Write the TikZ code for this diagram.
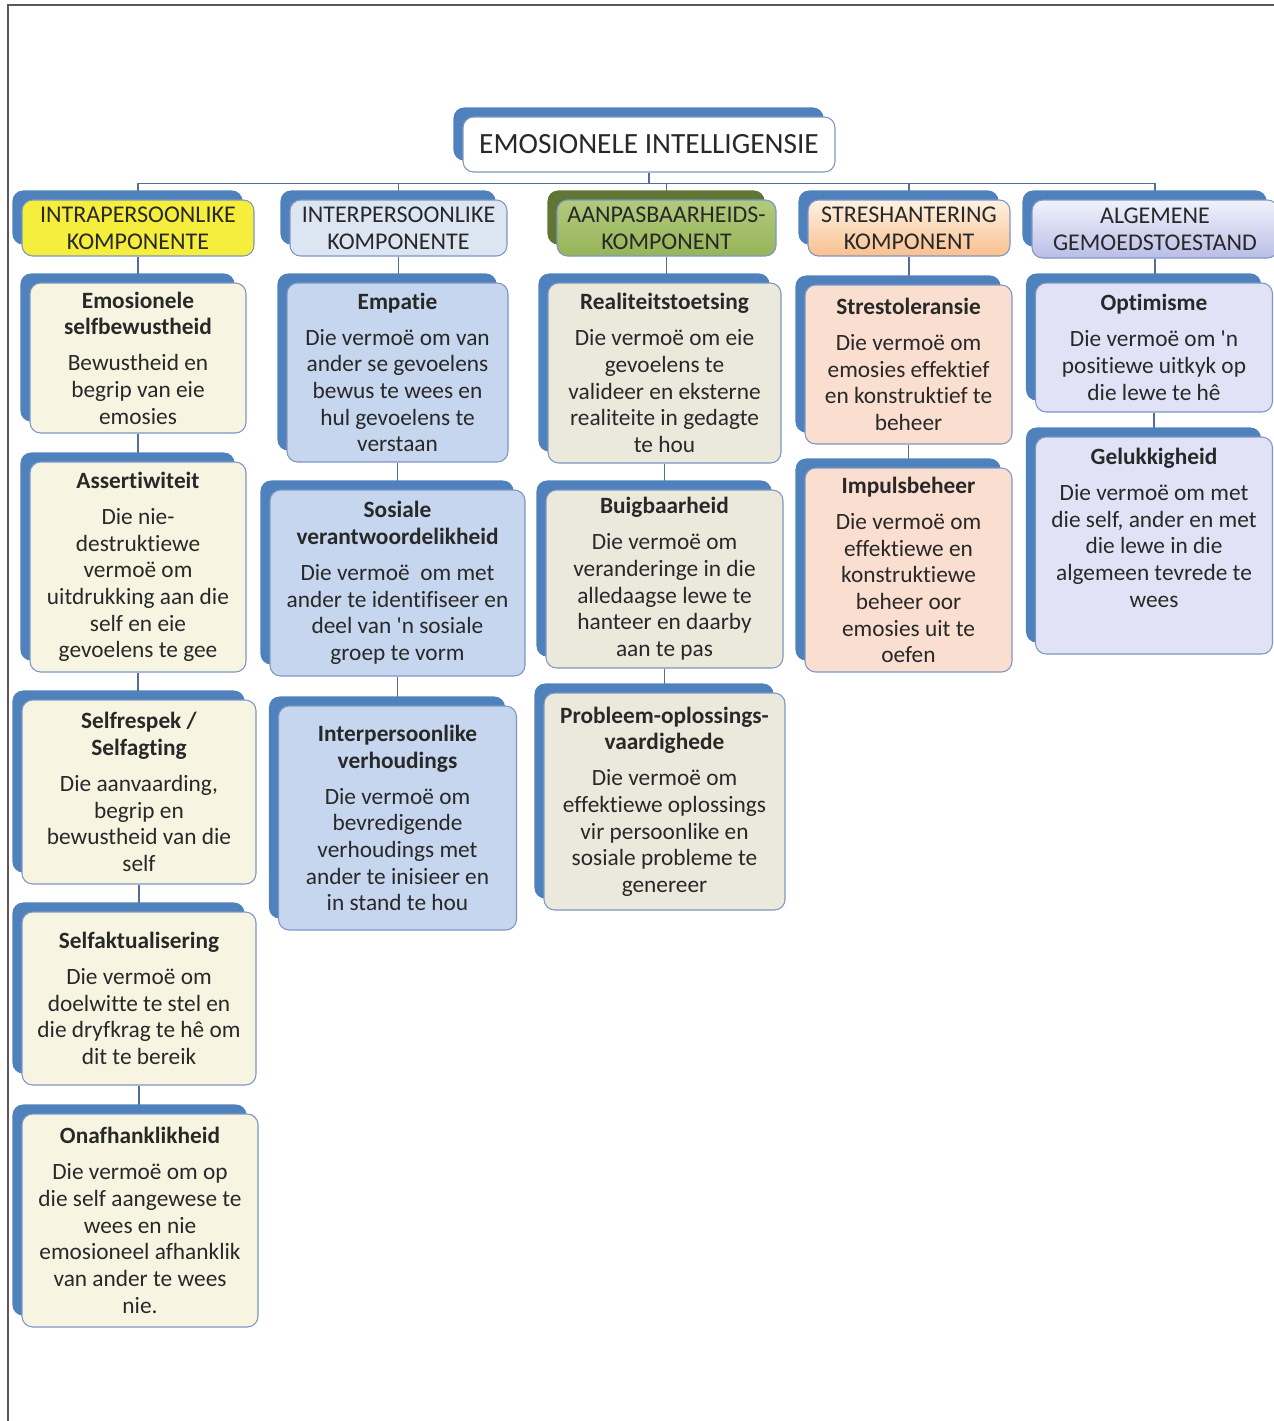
\documentclass[tikz,border=0pt]{standalone}
\usepackage{fontspec}
\setmainfont{Carlito}[Ligatures={NoCommon}]
\usetikzlibrary{backgrounds,calc}
\pgfdeclarelayer{connlayer}
\pgfsetlayers{connlayer,background,main}
\definecolor{backblue}{RGB}{79,129,189}
\definecolor{backgreen}{RGB}{95,118,52}
\definecolor{boxline}{RGB}{125,150,195}
\definecolor{conncol}{RGB}{85,110,150}
\definecolor{txt}{RGB}{40,40,40}
\definecolor{cream}{RGB}{247,245,226}
\definecolor{pblue}{RGB}{198,214,238}
\definecolor{beige}{RGB}{235,233,220}
\definecolor{peach}{RGB}{250,222,207}
\definecolor{lav}{RGB}{226,226,246}
\definecolor{hyellow}{RGB}{245,238,60}
\definecolor{hblue}{RGB}{220,230,243}
\definecolor{hgreenT}{RGB}{178,202,125}
\definecolor{hgreenB}{RGB}{150,180,88}
\definecolor{horangeT}{RGB}{253,242,228}
\definecolor{horangeB}{RGB}{250,192,143}
\definecolor{hlavT}{RGB}{242,242,252}
\definecolor{hlavB}{RGB}{185,190,230}
\definecolor{framecol}{RGB}{95,85,95}
\newcommand{\apos}{\textquotesingle}
\begin{document}
\begin{tikzpicture}[x=0.75pt,y=-0.75pt,
  box/.style={draw=boxline, line width=0.8pt, rounded corners=8pt, align=center,
    text=txt, font=\fontsize{17.5}{20}\selectfont, inner sep=1pt},
  hdr/.style={box, font=\fontsize{18}{20.3}\selectfont},
  wh/.style 2 args={minimum width=#1*0.75pt, minimum height=#2*0.75pt},
  conn/.style={draw=conncol, line width=1.1pt},
  backshape/.style={fill=backblue, rounded corners=8pt},
  framestyle/.style={draw=framecol, line width=1.5pt}]
\useasboundingbox (0,0) rectangle (1274,1421);
\draw[framestyle] (1274,5) -- (8,5) -- (8,1421);

% top
\node[box, fill=white, wh={372}{55}, font=\fontsize{22}{26}\selectfont] (top) at (649,144.5) {EMOSIONELE INTELLIGENSIE};

% headers
\node[hdr, fill=hyellow, wh={232}{56}] (h1) at (138,228) {INTRAPERSOONLIKE\\KOMPONENTE};
\node[hdr, fill=hblue, wh={217}{56}] (h2) at (398.5,228) {INTERPERSOONLIKE\\KOMPONENTE};
\node[hdr, top color=hgreenT, bottom color=hgreenB, wh={219}{56}] (h3) at (666.5,228) {AANPASBAARHEIDS-\\KOMPONENT};
\node[hdr, top color=horangeT, bottom color=horangeB, wh={202}{56}] (h4) at (909,228) {STRESHANTERING\\KOMPONENT};
\node[hdr, top color=hlavT, bottom color=hlavB, wh={246}{58}] (h5) at (1155,229) {ALGEMENE\\GEMOEDSTOESTAND};

% column 1
\node[box, fill=cream, wh={216}{150}] (a1) at (138,358) {\textbf{Emosionele}\\\textbf{selfbewustheid}\\[7pt]Bewustheid en\\begrip van eie\\emosies};
\node[box, fill=cream, wh={216}{210}] (a2) at (138,567) {\textbf{Assertiwiteit}\\[7pt]Die nie-\\destruktiewe\\vermoë om\\uitdrukking aan die\\self en eie\\gevoelens te gee};
\node[box, fill=cream, wh={234}{184}] (a3) at (139,792) {\textbf{Selfrespek /}\\\textbf{Selfagting}\\[7pt]Die aanvaarding,\\begrip en\\bewustheid van die\\self};
\node[box, fill=cream, wh={234}{173}] (a4) at (139,998.5) {\textbf{Selfaktualisering}\\[7pt]Die vermoë om\\doelwitte te stel en\\die dryfkrag te hê om\\dit te bereik};
\node[box, fill=cream, wh={236}{213}] (a5) at (140,1220.5) {\textbf{Onafhanklikheid}\\[7pt]Die vermoë om op\\die self aangewese te\\wees en nie\\emosioneel afhanklik\\van ander te wees\\nie.};

% column 2
\node[box, fill=pblue, wh={221}{179}] (b1) at (397.5,372.5) {\textbf{Empatie}\\[7pt]Die vermoë om van\\ander se gevoelens\\bewus te wees en\\hul gevoelens te\\verstaan};
\node[box, fill=pblue, wh={255}{186}] (b2) at (397.5,583) {\textbf{Sosiale}\\\textbf{verantwoordelikheid}\\[7pt]Die vermoë\ \ om met\\ander te identifiseer en\\deel van \apos n sosiale\\groep te vorm};
\node[box, fill=pblue, wh={238}{224}] (b3) at (397.5,818) {\textbf{Interpersoonlike}\\\textbf{verhoudings}\\[7pt]Die vermoë om\\bevredigende\\verhoudings met\\ander te inisieer en\\in stand te hou};

% column 3
\node[box, fill=beige, wh={233}{180}] (c1) at (664.5,373) {\textbf{Realiteitstoetsing}\\[7pt]Die vermoë om eie\\gevoelens te\\valideer en eksterne\\realiteite in gedagte\\te hou};
\node[box, fill=beige, wh={237}{178}] (c2) at (664.5,579) {\textbf{Buigbaarheid}\\[7pt]Die vermoë om\\veranderinge in die\\alledaagse lewe te\\hanteer en daarby\\aan te pas};
\node[box, fill=beige, wh={241}{217}] (c3) at (664.5,801.5) {\textbf{Probleem-oplossings-}\\\textbf{vaardighede}\\[7pt]Die vermoë om\\effektiewe oplossings\\vir persoonlike en\\sosiale probleme te\\genereer};

% column 4
\node[box, fill=peach, wh={207}{159}] (d1) at (908.5,364.5) {\textbf{Strestoleransie}\\[7pt]Die vermoë om\\emosies effektief\\en konstruktief te\\beheer};
\node[box, fill=peach, wh={207}{204}] (d2) at (908.5,570) {\textbf{Impulsbeheer}\\[7pt]Die vermoë om\\effektiewe en\\konstruktiewe\\beheer oor\\emosies uit te\\oefen};

% column 5
\node[box, fill=lav, wh={237}{129}] (e1) at (1154,347.5) {\textbf{Optimisme}\\[7pt]Die vermoë om \apos n\\positiewe uitkyk op\\die lewe te hê};
\node[box, fill=lav, wh={237}{217}] (e2) at (1154,545.5) {\textbf{Gelukkigheid}\\[7pt]Die vermoë om met\\die self, ander en met\\die lewe in die\\algemeen tevrede te\\wees\\[7pt]\mbox{}};

% back shapes
\begin{pgfonlayer}{background}
\foreach \n in {top,h1,h2,h4,h5,a1,a2,a3,a4,a5,b1,b2,b3,c1,c2,c3,d1,d2,e1,e2}
  \fill[backshape] ($(\n.north west)+(-9,-9)$) rectangle ($(\n.south east)+(-12,-12)$);
\fill[backshape, fill=backgreen] ($(h3.north west)+(-9,-9)$) rectangle ($(h3.south east)+(-12,-12)$);
\end{pgfonlayer}

% connectors
\begin{pgfonlayer}{connlayer}
\foreach \h in {h1,h2,h3,h4,h5}
  \draw[conn] (top.south) -- ++(0,11) -| (\h.north);
\draw[conn] (h1.south) -- (h1.south |- a1.north);
\draw[conn] (a1.south) -- (a1.south |- a2.north);
\draw[conn] (a2.south) -- (a2.south |- a3.north);
\draw[conn] (a3.south) -- (a3.south |- a4.north);
\draw[conn] (a4.south) -- (a4.south |- a5.north);
\draw[conn] (h2.south) -- (h2.south |- b1.north);
\draw[conn] (b1.south) -- (b1.south |- b2.north);
\draw[conn] (b2.south) -- (b2.south |- b3.north);
\draw[conn] (h3.south) -- (h3.south |- c1.north);
\draw[conn] (c1.south) -- (c1.south |- c2.north);
\draw[conn] (c2.south) -- (c2.south |- c3.north);
\draw[conn] (h4.south) -- (h4.south |- d1.north);
\draw[conn] (d1.south) -- (d1.south |- d2.north);
\draw[conn] (h5.south) -- (h5.south |- e1.north);
\draw[conn] (e1.south) -- (e1.south |- e2.north);
\end{pgfonlayer}
\end{tikzpicture}
\end{document}
